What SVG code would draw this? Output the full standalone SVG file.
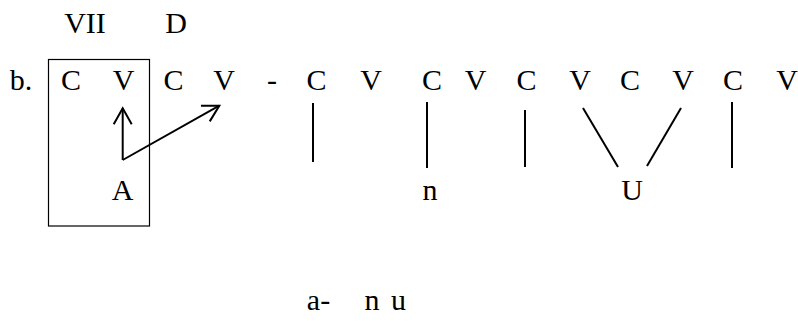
<svg xmlns="http://www.w3.org/2000/svg" width="798" height="321" viewBox="0 0 798 321">
  <style>
    text { font-family: "Liberation Serif", "Times New Roman", serif; font-size: 30px; fill: #000; text-anchor: middle; }
    .ln { stroke: #000; stroke-width: 2; fill: none; }
    .box { stroke: #000; stroke-width: 1.2; fill: none; }
  </style>
  <defs>
    <marker id="ah" markerUnits="userSpaceOnUse" markerWidth="24" markerHeight="24" viewBox="-20 -12 24 24" refX="0" refY="0" orient="auto">
      <path d="M -16,-9 L 0,0 L -16,9" fill="none" stroke="#000" stroke-width="2"/>
    </marker>
  </defs>
  <g id="labels-top">
    <text x="85" y="33">VII</text>
    <text x="176" y="33">D</text>
  </g>
  <g id="label-b"><text x="21" y="90">b.</text></g>
  <g id="box"><rect class="box" x="48.5" y="59.5" width="101" height="166.5"/></g>
  <g id="skeleton">
    <text x="71" y="90">C</text>
    <text x="123.5" y="90">V</text>
    <text x="173.5" y="90">C</text>
    <text x="224" y="90">V</text>
    <text x="272" y="90">-</text>
    <text x="316.5" y="90">C</text>
    <text x="371" y="90">V</text>
    <text x="432" y="90">C</text>
    <text x="475.5" y="90">V</text>
    <text x="526.5" y="90">C</text>
    <text x="580" y="90">V</text>
    <text x="630" y="90">C</text>
    <text x="683" y="90">V</text>
    <text x="733" y="90">C</text>
    <text x="787" y="90">V</text>
  </g>
  <g id="melody">
    <text x="122.5" y="200">A</text>
    <text x="430" y="200">n</text>
    <text x="632" y="200">U</text>
  </g>
  <g id="gloss">
    <text x="318.5" y="310">a-</text>
    <text x="372" y="310">n</text>
    <text x="398.5" y="310">u</text>
  </g>
  <g id="connectors">
    <line class="ln" x1="122.7" y1="160" x2="122.7" y2="108.3" marker-end="url(#ah)"/>
    <line class="ln" x1="122.7" y1="160" x2="219.3" y2="105.7" marker-end="url(#ah)"/>
    <line class="ln" x1="313" y1="103" x2="313" y2="162"/>
    <line class="ln" x1="427" y1="102" x2="427" y2="168"/>
    <line class="ln" x1="525" y1="110" x2="525" y2="167"/>
    <line class="ln" x1="583" y1="108" x2="618" y2="167"/>
    <line class="ln" x1="681" y1="108" x2="647" y2="166"/>
    <line class="ln" x1="732" y1="102" x2="732" y2="168"/>
  </g>
</svg>
